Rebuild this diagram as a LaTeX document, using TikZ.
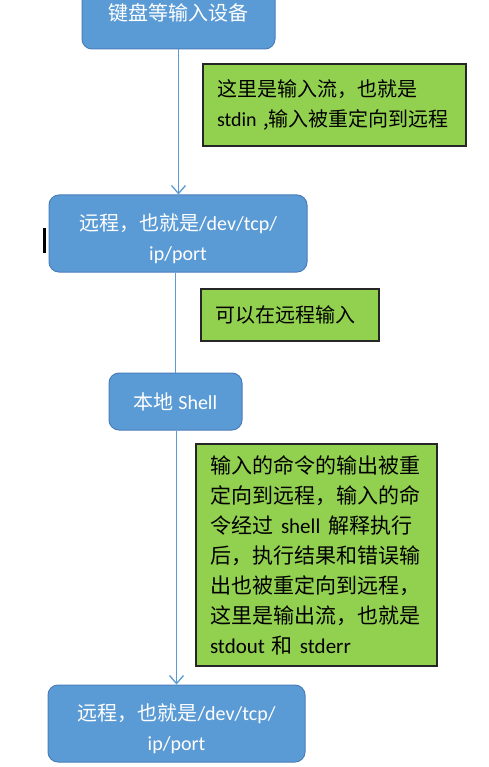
\documentclass[tikz,border=0pt]{standalone}
\usepackage{fontspec}
\setmainfont{Noto Sans CJK SC}
\newfontfamily\latfont{Carlito}
\newcommand{\en}[1]{{\latfont #1}}
\usetikzlibrary{arrows.meta}

\definecolor{boxblue}{HTML}{5B9BD5}
\definecolor{boxedge}{HTML}{4A7EBB}
\definecolor{notegreen}{HTML}{92D050}

\tikzset{
  stepbox/.style={draw=boxedge, line width=1pt, fill=boxblue, rounded corners=10pt,
    text=white, align=center, inner sep=0pt, font=\fontsize{20}{30}\selectfont},
  notebox/.style={draw=black!85, line width=1.2pt, fill=notegreen, text=black,
    align=left, inner sep=0pt, font=\fontsize{20}{30}\selectfont},
  flow/.style={draw=boxblue, line width=1.3pt},
  flowarrow/.style={flow, -{Straight Barb[length=8pt,width=14pt,line width=1.3pt]}}
}

\begin{document}
\begin{tikzpicture}[x=1pt,y=-1pt]
        % Fix the page size and cut what falls outside
        \useasboundingbox (0,0) rectangle (488,767);
        \clip (0,0) rectangle (488,767);

        % Draw the blue steps
        \node[stepbox, minimum width=193pt, minimum height=72pt] (kbd) at (178.5,13) {键盘等输入设备};
        \node[stepbox, minimum width=258pt, minimum height=77pt] (remoteA) at (178,233.5)
          {\rule{0pt}{28pt}远程，也就是\en{/dev/tcp/}\\\en{ip/port}};
        \node[stepbox, minimum width=133pt, minimum height=57pt] (shell) at (175.5,401.5) {本地 \en{Shell}};
        \node[stepbox, minimum width=257pt, minimum height=77pt] (remoteB) at (176.5,723.5)
          {\rule{0pt}{28pt}远程，也就是\en{/dev/tcp/}\\\en{ip/port}};

        % Draw the green notes
        \node[notebox, minimum width=263pt, minimum height=82pt, text width=235pt] (noteIn) at (334.5,105)
          {这里是输入流，也就是\\\en{stdin} ,输入被重定向到远程};
        \node[notebox, minimum width=178pt, minimum height=52pt, text width=150pt] (noteRemote) at (290,315)
          {可以在远程输入};
        \node[notebox, minimum width=241pt, minimum height=222pt, text width=213pt,
          font=\fontsize{21}{30}\selectfont] (noteOut) at (316.5,555)
          {输入的命令的输出被重\\定向到远程，输入的命\\令经过\hspace{8pt}\en{shell}\hspace{8pt}解释执行\\后，执行结果和错误输\\出也被重定向到远程，\\这里是输出流，也就是\\\en{stdout} 和 \en{stderr}};

        % Draw the connectors
        \draw[flowarrow] (kbd) -- (kbd |- remoteA.north);
        \draw[flow] (shell.north |- remoteA.south) -- (shell.north);
        \draw[flowarrow] (remoteB.north |- shell.south) -- (remoteB.north);

        % Text cursor left of the first remote box
        \fill[black] (43,228) rectangle (46,253);

      \end{tikzpicture}
\end{document}
